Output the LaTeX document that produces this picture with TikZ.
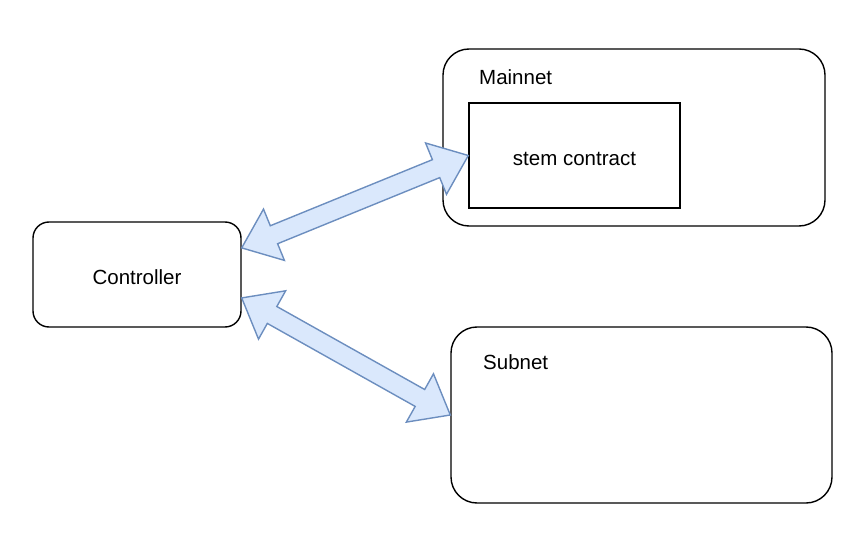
\documentclass[tikz,border=0pt]{standalone}
\usepackage{fontspec}
\setmainfont{Liberation Sans}
\usetikzlibrary{shapes.arrows,calc}
\definecolor{arrowfill}{HTML}{DAE8FC}
\definecolor{arrowline}{HTML}{6C8EBF}
\tikzset{
  rbox/.style={draw=black, line width=1.4pt, rounded corners=#1, inner sep=0pt},
  sqbox/.style={draw=black, line width=1.4pt, inner sep=0pt},
  lbl/.style={font=\fontsize{20.5}{24}\selectfont, inner sep=0pt},
  boxtext/.style={lbl, text height=19.5pt, text depth=0pt},
  darrow/.style={double arrow, draw=arrowline, fill=arrowfill, line width=1.4pt,
    inner xsep=0pt, inner ysep=9pt, double arrow head extend=18pt,
    double arrow tip angle=77, minimum width=0pt, outer sep=0pt}
}
\begin{document}
\begin{tikzpicture}[x=1pt,y=-1pt]
\useasboundingbox (0,0) rectangle (867,553);
% boxes
\node[rbox=16pt, minimum width=208pt, minimum height=105pt, boxtext] (ctrl) at (137,274.5) {Controller};
\node[rbox=26pt, minimum width=382pt, minimum height=177pt] (mainnet) at (634,137.5) {};
\node[lbl, anchor=west] (mainlbl) at (479,77.5) {Mainnet};
\node[sqbox, minimum width=211pt, minimum height=105pt, boxtext] (stem) at (574.5,155.5) {stem contract};
\node[rbox=26pt, minimum width=381pt, minimum height=176pt] (subnet) at (641.5,415) {};
\node[lbl, anchor=west] (sublbl) at (483,362.5) {Subnet};
% arrow end points
\coordinate (a1) at ($(ctrl.north east)!0.25!(ctrl.south east)$);
\coordinate (b1) at (stem.west);
\coordinate (a2) at ($(ctrl.north east)!0.72!(ctrl.south east)$);
\coordinate (b2) at (subnet.west);
% arrows
\path let \p1=($(b1)-(a1)$), \n1={atan2(\y1,\x1)}, \n2={veclen(\x1,\y1)} in
  node[darrow, minimum height=\n2, rotate=\n1] (arr1) at ($(a1)!0.5!(b1)$) {};
\path let \p1=($(b2)-(a2)$), \n1={atan2(\y1,\x1)}, \n2={veclen(\x1,\y1)} in
  node[darrow, minimum height=\n2, rotate=\n1] (arr2) at ($(a2)!0.5!(b2)$) {};
\end{tikzpicture}
\end{document}
